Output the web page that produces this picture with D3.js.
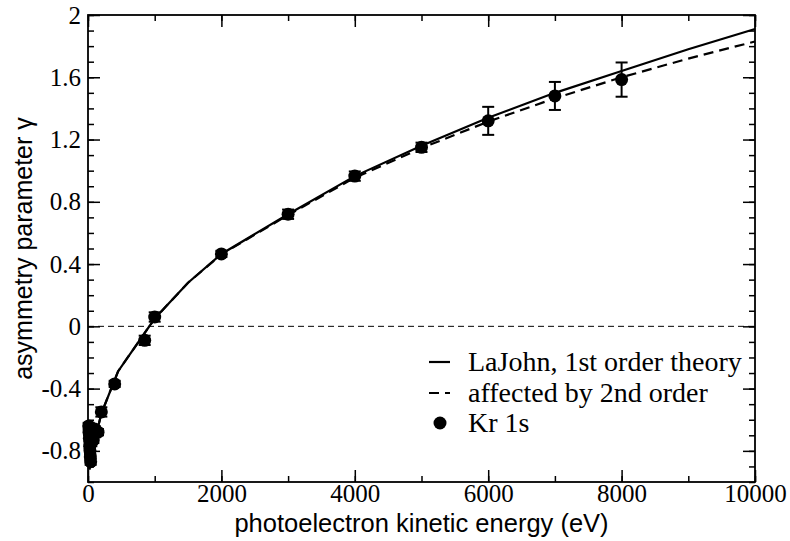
<!DOCTYPE html>
<html>
<head>
<meta charset="utf-8">
<script src="https://cdn.jsdelivr.net/npm/d3@7"></script>
<style>
  body { margin: 0; background: #fff; }
  svg { display: block; }
</style>
</head>
<body>
<svg id="chart" width="790" height="541"></svg>
<script>
// ---- data ----
const theoryEnergy   = [20, 100, 200, 450, 1000, 1500, 2000, 3000, 4000, 5000, 6000, 7000, 8000, 9000, 10000];
const theoryGamma    = [-0.92, -0.74, -0.56, -0.29, 0.05, 0.28, 0.465, 0.72, 0.965, 1.16, 1.34, 1.50, 1.64, 1.78, 1.91];
const secondEnergy   = [20, 100, 200, 450, 1000, 1500, 2000, 3000, 4000, 5000, 6000, 7000, 8000, 9000, 10000];
const secondGamma    = [-0.92, -0.74, -0.56, -0.29, 0.05, 0.28, 0.462, 0.715, 0.955, 1.145, 1.315, 1.465, 1.60, 1.72, 1.83];
const krEnergy = [10, 15, 20, 25, 30, 35, 40, 50, 60, 80, 100, 150, 200, 400, 850, 1000, 2000, 3000, 4000, 5000, 6000, 7000, 8000];
const krGamma  = [-0.64, -0.68, -0.72, -0.77, -0.80, -0.84, -0.87, -0.75, -0.70, -0.73, -0.66, -0.68, -0.55, -0.37, -0.09, 0.06, 0.465, 0.72, 0.965, 1.15, 1.32, 1.48, 1.585];
const krError  = [0.02, 0.02, 0.02, 0.02, 0.02, 0.02, 0.02, 0.02, 0.02, 0.02, 0.02, 0.02, 0.03, 0.02, 0.03, 0.03, 0.02, 0.03, 0.03, 0.03, 0.09, 0.09, 0.11];
const xTicks = [0, 2000, 4000, 6000, 8000, 10000];
const yTicks = [-0.8, -0.4, 0, 0.4, 0.8, 1.2, 1.6, 2];
const legendLabels = ["LaJohn, 1st order theory", "affected by 2nd order", "Kr 1s"];
const xTitle = "photoelectron kinetic energy (eV)";
const yTitle = "asymmetry parameter \u03b3";

// ---- layout ----
const svg = d3.select("#chart");
const L = 88, R = 755, T = 15, B = 482;
const x = d3.scaleLinear().domain([0, 10000]).range([L, R]);
const y = d3.scaleLinear().domain([-1, 2]).range([B, T]);
const serif = "'Liberation Serif', 'Times New Roman', serif";
const sans = "'Liberation Sans', Arial, sans-serif";

// zero line
svg.append("line")
  .attr("x1", x(0)).attr("x2", x(10000)).attr("y1", y(0)).attr("y2", y(0))
  .attr("stroke", "#000").attr("stroke-width", 1).attr("stroke-dasharray", "6,4");

// axes with inward ticks (major + minor)
const xMinor = d3.range(0, 10001, 1000);
const yMinor = d3.range(-10, 21, 1).map(d => d / 10);
function drawAxis(gen, transform) {
  return svg.append("g").attr("transform", transform).call(gen)
    .call(g => g.select(".domain").remove())
    .call(g => g.selectAll(".tick line").attr("stroke", "#000").attr("stroke-width", 1.5));
}
const fmtY = d => (d === 0 ? "0" : d === 2 ? "2" : d3.format(".1f")(d)).replace("\u2212", "-");
// bottom
drawAxis(d3.axisBottom(x).tickValues(xMinor).tickSize(-6).tickFormat(""), `translate(0,${B})`);
const xg = drawAxis(d3.axisBottom(x).tickValues(xTicks).tickSize(-12).tickFormat(d3.format("d")), `translate(0,${B})`);
xg.selectAll(".tick text").attr("y", 20).attr("dy", 0);
// top
drawAxis(d3.axisTop(x).tickValues(xMinor).tickSize(-6).tickFormat(""), `translate(0,${T})`);
drawAxis(d3.axisTop(x).tickValues(xTicks).tickSize(-12).tickFormat(""), `translate(0,${T})`);
// left
drawAxis(d3.axisLeft(y).tickValues(yMinor).tickSize(-6).tickFormat(""), `translate(${L},0)`);
const yg = drawAxis(d3.axisLeft(y).tickValues(yTicks).tickSize(-12).tickFormat(fmtY), `translate(${L},0)`);
yg.selectAll(".tick text").attr("x", -7);
// right
drawAxis(d3.axisRight(y).tickValues(yMinor).tickSize(-6).tickFormat(""), `translate(${R},0)`);
drawAxis(d3.axisRight(y).tickValues(yTicks).tickSize(-12).tickFormat(""), `translate(${R},0)`);

svg.selectAll(".tick text").attr("font-family", serif).attr("font-size", 25).attr("fill", "#000");

// frame
svg.append("rect").attr("x", L).attr("y", T).attr("width", R - L).attr("height", B - T)
  .attr("fill", "none").attr("stroke", "#000").attr("stroke-width", 1.8);

// curves
const line = d3.line().x(d => x(d[0])).y(d => y(d[1]));
svg.append("path").datum(theoryEnergy.map((e, i) => [e, theoryGamma[i]]))
  .attr("d", line).attr("fill", "none").attr("stroke", "#000").attr("stroke-width", 2.2);
svg.append("path").datum(secondEnergy.map((e, i) => [e, secondGamma[i]]))
  .attr("d", line).attr("fill", "none").attr("stroke", "#000").attr("stroke-width", 2.2)
  .attr("stroke-dasharray", "10,6");

// data points with error bars
const pts = krEnergy.map((e, i) => ({ e, g: krGamma[i], err: krError[i] }));
const eb = svg.append("g").attr("stroke", "#000").attr("stroke-width", 2);
pts.forEach(p => {
  eb.append("line").attr("x1", x(p.e)).attr("x2", x(p.e)).attr("y1", y(p.g - p.err)).attr("y2", y(p.g + p.err));
  [p.g - p.err, p.g + p.err].forEach(v =>
    eb.append("line").attr("x1", x(p.e) - 6).attr("x2", x(p.e) + 6).attr("y1", y(v)).attr("y2", y(v)));
});
svg.append("g").selectAll("circle").data(pts).join("circle")
  .attr("cx", d => x(d.e)).attr("cy", d => y(d.g)).attr("r", 6.5).attr("fill", "#000");

// legend
const lg = svg.append("g").attr("font-family", serif).attr("font-size", 28);
const rowY = [362, 393, 423];
lg.append("line").attr("x1", 429).attr("x2", 450).attr("y1", rowY[0]).attr("y2", rowY[0])
  .attr("stroke", "#000").attr("stroke-width", 2.2);
lg.append("line").attr("x1", 429).attr("x2", 450).attr("y1", rowY[1]).attr("y2", rowY[1])
  .attr("stroke", "#000").attr("stroke-width", 2.2).attr("stroke-dasharray", "10,6");
lg.append("circle").attr("cx", 440).attr("cy", rowY[2]).attr("r", 6.5).attr("fill", "#000");
legendLabels.forEach((t, i) =>
  lg.append("text").attr("x", 468).attr("y", rowY[i]).attr("dy", "0.33em").text(t));

// axis titles
svg.append("text").attr("x", (L + R) / 2).attr("y", 532).attr("text-anchor", "middle")
  .attr("font-family", sans).attr("font-size", 25.5).text(xTitle);
svg.append("text").attr("transform", `translate(32,${(T + B) / 2}) rotate(-90)`)
  .attr("text-anchor", "middle").attr("font-family", sans).attr("font-size", 25).text(yTitle);
</script>
</body>
</html>
